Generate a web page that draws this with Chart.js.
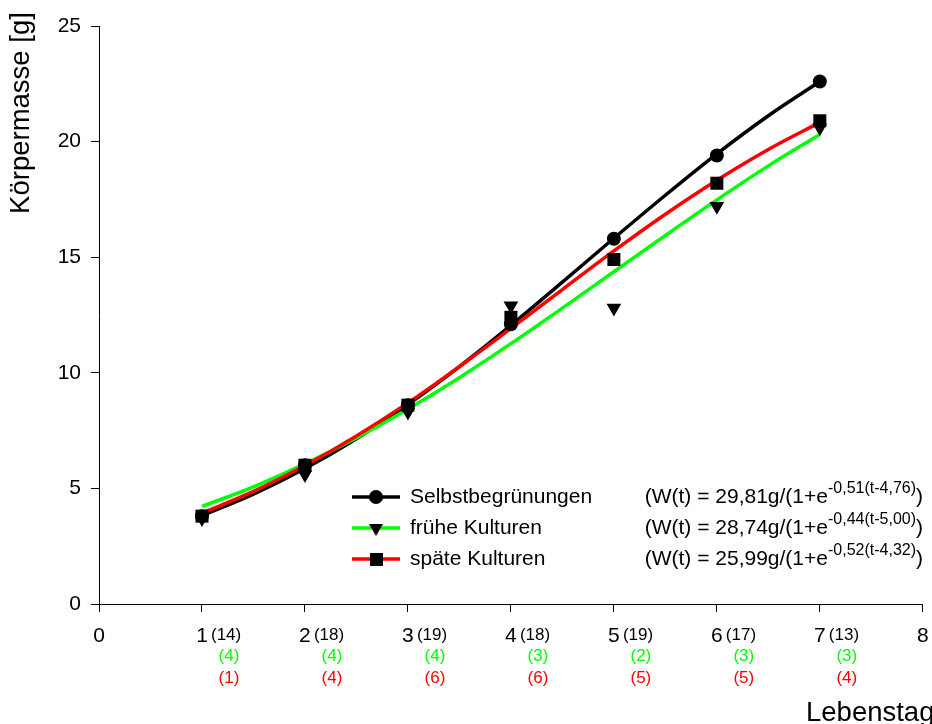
<!DOCTYPE html>
<html lang="de">
<head>
<meta charset="UTF-8">
<title>Körpermasse nach Lebenstag</title>
<script src="https://cdn.jsdelivr.net/npm/chart.js@4.4.1/dist/chart.umd.min.js"></script>
<style>
    html, body { margin: 0; padding: 0; background: #fff; overflow: hidden; }
    #wrap { width: 932px; height: 724px; }
</style>
</head>
<body>
<div id="wrap"><canvas id="chart"></canvas></div>
<script>
    const days = [1, 2, 3, 4, 5, 6, 7];
    const xTicks = [0, 1, 2, 3, 4, 5, 6, 7, 8];

    // mean body mass (markers)
    const selbstMean = [3.8, 6.0, 8.6, 12.1, 15.8, 19.4, 22.6];
    const fruehMean  = [3.7, 5.6, 8.3, 12.9, 12.8, 17.2, 20.6];
    const spaetMean  = [3.8, 6.0, 8.6, 12.4, 14.9, 18.2, 20.9];

    // fitted curves, every half day
    const fitDays   = [1, 1.5, 2, 2.5, 3, 3.5, 4, 4.5, 5, 5.5, 6, 6.5, 7];
    const selbstFit = [3.82, 4.75, 5.86, 7.15, 8.63, 10.27, 12.05, 13.92, 15.82, 17.68, 19.47, 21.12, 22.6];
    const fruehFit  = [4.22, 5.07, 6.06, 7.18, 8.43, 9.79, 11.26, 12.8, 14.37, 15.94, 17.48, 18.95, 20.31];
    const spaetFit  = [3.93, 4.87, 5.99, 7.27, 8.7, 10.27, 11.92, 13.6, 15.27, 16.86, 18.33, 19.66, 20.83];

    // sample sizes below each day
    const nSelbst = [14, 18, 19, 18, 19, 17, 13];
    const nFrueh  = [4, 4, 4, 3, 2, 3, 3];
    const nSpaet  = [1, 4, 6, 6, 5, 5, 4];

    const seriesNames = ['Selbstbegrünungen', 'frühe Kulturen', 'späte Kulturen'];
    const fitCoef = ['29,81', '28,74', '25,99'];
    const fitExp = ['-0,51(t-4,76)', '-0,44(t-5,00)', '-0,52(t-4,32)'];

    const GREEN = '#00ff00';
    const RED = '#ff0000';
    const FONT = '"Liberation Sans", Arial, sans-serif';

    const toXY = (xs, ys) => ys.map((y, i) => ({ x: xs[i], y: y }));

    function lineSet(data, color, order) {
        return {
            data: toXY(fitDays, data), borderColor: color, borderWidth: 3.5,
            pointRadius: 0, showLine: true, cubicInterpolationMode: 'monotone',
            order: order
        };
    }
    function markerSet(data, style, radius, rotation, order) {
        return {
            data: toXY(days, data), showLine: false, pointStyle: style, pointRadius: radius,
            pointRotation: rotation, backgroundColor: '#000', borderColor: '#000',
            borderWidth: 0, order: order
        };
    }

    const extras = {
        id: 'extras',
        afterDraw(chart) {
            const c = chart.ctx;
            const xs = chart.scales.x;
            c.save();
            // sample sizes
            c.textBaseline = 'middle';
            c.font = '17px ' + FONT;
            days.forEach((d, i) => {
                const px = xs.getPixelForValue(d);
                c.textAlign = 'left';
                c.fillStyle = '#000';
                c.fillText('(' + nSelbst[i] + ')', px + 9, 635);
                c.textAlign = 'center';
                c.fillStyle = GREEN;
                c.fillText('(' + nFrueh[i] + ')', px + 27, 656);
                c.fillStyle = RED;
                c.fillText('(' + nSpaet[i] + ')', px + 27, 678);
            });

            // axis titles
            c.fillStyle = '#000';
            c.font = '27.5px ' + FONT;
            c.textAlign = 'left';
            c.textBaseline = 'alphabetic';
            c.fillText('Lebenstag', 806, 721);
            c.save();
            c.translate(21, 113);
            c.rotate(-Math.PI / 2);
            c.textAlign = 'center';
            c.textBaseline = 'middle';
            c.fillText('Körpermasse [g]', 0, 0);
            c.restore();

            // legend
            const rows = [497, 528, 559];
            const colors = ['#000', GREEN, RED];
            rows.forEach((y, i) => {
                c.strokeStyle = colors[i];
                c.lineWidth = 3.5;
                c.beginPath();
                c.moveTo(352, y);
                c.lineTo(400, y);
                c.stroke();
                c.fillStyle = '#000';
                c.beginPath();
                if (i === 0) {
                    c.arc(376, y, 7, 0, Math.PI * 2);
                } else if (i === 1) {
                    c.moveTo(369, y - 4);
                    c.lineTo(383, y - 4);
                    c.lineTo(376, y + 8);
                    c.closePath();
                } else {
                    c.rect(370, y - 6, 13, 13);
                }
                c.fill();

                c.font = '21px ' + FONT;
                c.textBaseline = 'middle';
                c.textAlign = 'left';
                c.fillText(seriesNames[i], 410, y);

                const main = '(W(t) = ' + fitCoef[i] + 'g/(1+e';
                const wMain = c.measureText(main).width;
                const wClose = c.measureText(')').width;
                c.font = '16px ' + FONT;
                const wExp = c.measureText(fitExp[i]).width;
                const x0 = 923 - wMain - wExp - wClose;
                c.font = '21px ' + FONT;
                c.fillText(main, x0, y);
                c.font = '16px ' + FONT;
                c.fillText(fitExp[i], x0 + wMain, y - 8);
                c.font = '21px ' + FONT;
                c.fillText(')', x0 + wMain + wExp, y);
            });
            c.restore();
        }
    };

    new Chart(document.getElementById('chart'), {
        type: 'scatter',
        data: {
            datasets: [
                lineSet(selbstFit, '#000', 6),
                lineSet(fruehFit, GREEN, 5),
                lineSet(spaetFit, RED, 4),
                markerSet(selbstMean, 'circle', 7, 0, 3),
                markerSet(fruehMean, 'triangle', 8.5, 180, 2),
                markerSet(spaetMean, 'rect', 9.2, 0, 1)
            ]
        },
        options: {
            responsive: true,
            maintainAspectRatio: false,
            animation: false,
            events: [],
            clip: false,
            layout: { padding: { top: 26, right: 7, left: 0, bottom: 0 } },
            plugins: { legend: { display: false }, tooltip: { enabled: false } },
            scales: {
                x: {
                    type: 'linear', min: 0, max: 8,
                    afterFit(s) { s.height = 120; s.paddingLeft = 0; s.paddingRight = 0; },
                    afterBuildTicks(s) { s.ticks = xTicks.map(v => ({ value: v })); },
                    border: { display: true, color: '#000', width: 1 },
                    grid: { display: true, drawOnChartArea: false, drawTicks: true, tickLength: 8, color: '#000' },
                    ticks: { color: '#000', padding: 12, maxRotation: 0, font: { size: 21, family: FONT } }
                },
                y: {
                    min: 0, max: 25,
                    afterFit(s) { s.width = 99; s.paddingTop = 0; s.paddingBottom = 0; },
                    border: { display: true, color: '#000', width: 1 },
                    grid: { display: true, drawOnChartArea: false, drawTicks: true, tickLength: 8, color: '#000' },
                    ticks: { stepSize: 5, color: '#000', padding: 10, font: { size: 21, family: FONT } }
                }
            }
        },
        plugins: [extras]
    });
</script>
</body>
</html>
